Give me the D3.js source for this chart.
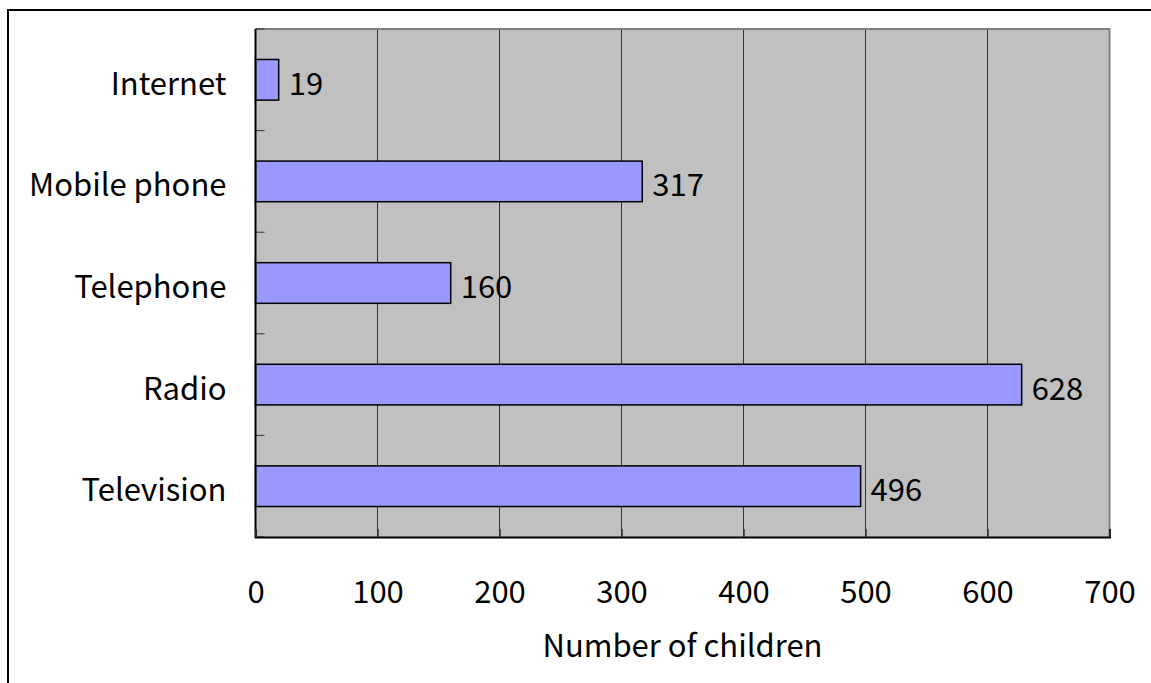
<!DOCTYPE html>
<html>
<head>
<meta charset="utf-8">
<script src="https://cdn.jsdelivr.net/npm/d3@7"></script>
<style>
html,body{margin:0;padding:0;background:#fff;}
svg{display:block;}
text{font-family:"Noto Sans CJK JP","Noto Sans",sans-serif;fill:#000;}
</style>
</head>
<body>
<svg id="chart" width="1151" height="683"></svg>
<script>
const categories = ["Internet", "Mobile phone", "Telephone", "Radio", "Television"];
const values = [19, 317, 160, 628, 496];
const xTicks = [0, 100, 200, 300, 400, 500, 600, 700];
const xTitle = "Number of children";

const svg = d3.select("#chart");
const L = 255.5, R = 1109.5, T = 29, B = 537;
const FS = 31;

// outer frame
svg.append("rect").attr("x", 8).attr("y", 10).attr("width", 1300).attr("height", 900)
  .attr("fill", "none").attr("stroke", "#000").attr("stroke-width", 2);

const x = d3.scaleLinear().domain([0, 700]).range([L, R]);
const y = d3.scaleBand().domain(categories).range([T, B]).padding(0);

// plot background
svg.append("rect").attr("x", L).attr("y", T).attr("width", R - L).attr("height", B - T)
  .attr("fill", "#c0c0c0");

// grid lines
svg.append("g").selectAll("line").data(xTicks.slice(1, -1)).join("line")
  .attr("x1", d => x(d)).attr("x2", d => x(d)).attr("y1", T).attr("y2", B)
  .attr("stroke", "#333").attr("stroke-width", 1);

// plot border top/right
svg.append("path").attr("d", `M${L},${T}H${R}V${B}`).attr("fill", "none")
  .attr("stroke", "#808080").attr("stroke-width", 2);

// bars
const bh = y.bandwidth() * 0.4;
svg.append("g").selectAll("rect").data(categories).join("rect")
  .attr("x", x(0))
  .attr("y", d => y(d) + (y.bandwidth() - bh) / 2)
  .attr("width", (d, i) => x(values[i]) - x(0))
  .attr("height", bh)
  .attr("fill", "#9999ff").attr("stroke", "#000").attr("stroke-width", 1.5);

// value labels
svg.append("g").selectAll("text").data(categories).join("text")
  .attr("x", (d, i) => x(values[i]) + 10)
  .attr("y", d => y(d) + y.bandwidth() / 2 + 15)
  .attr("font-size", FS)
  .text((d, i) => values[i]);

// left axis with category ticks at band boundaries
const boundaries = categories.map(c => y(c)).concat([B]);
svg.append("g").selectAll("line").data(boundaries).join("line")
  .attr("x1", L).attr("x2", L + 9).attr("y1", d => d).attr("y2", d => d)
  .attr("stroke", "#333").attr("stroke-width", 1);
svg.append("line").attr("x1", L).attr("x2", L).attr("y1", T).attr("y2", B + 1)
  .attr("stroke", "#000").attr("stroke-width", 2);

// category labels
svg.append("g").selectAll("text").data(categories).join("text")
  .attr("x", L - 29)
  .attr("y", d => y(d) + y.bandwidth() / 2 + 15)
  .attr("text-anchor", "end")
  .attr("font-size", FS)
  .text(d => d);

// bottom axis
const xAxis = d3.axisBottom(x).tickValues(xTicks).tickSize(-8).tickPadding(0).tickFormat(d3.format("d"));
const gx = svg.append("g").attr("transform", `translate(0,${B})`).call(xAxis);
gx.select(".domain").attr("stroke", "#000").attr("stroke-width", 2);
gx.selectAll(".tick line").attr("stroke", "#333").attr("stroke-width", 1.5);
gx.selectAll(".tick text").attr("font-size", FS).attr("dy", null).attr("y", 66)
  .attr("font-family", '"Noto Sans CJK JP","Noto Sans",sans-serif').attr("fill", "#000");

// axis title
svg.append("text").attr("x", (L + R) / 2).attr("y", 657).attr("text-anchor", "middle")
  .attr("font-size", FS).text(xTitle);
</script>
</body>
</html>
